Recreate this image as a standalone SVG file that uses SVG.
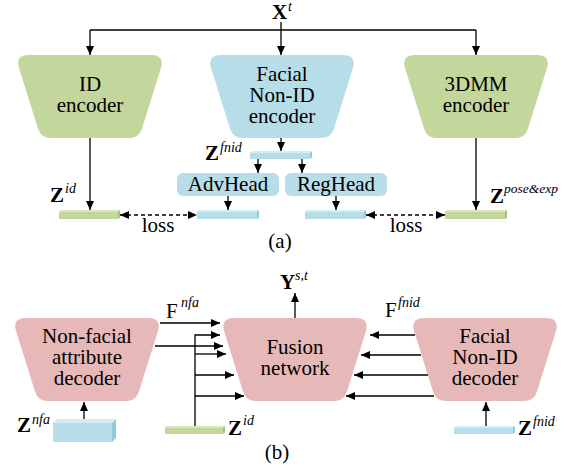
<svg xmlns="http://www.w3.org/2000/svg" width="565" height="472" viewBox="0 0 565 472">
  <style>
    text { font-size: 21px; fill: #000; }
    .c { text-anchor: middle; }
    .green { fill: #c3d69b; }
    .blue { fill: #b7dde8; }
    .pink { fill: #e6b9b8; }
    .greenSide { fill: #a6c27a; }
    .blueSide { fill: #8fcbdb; }
    .blueTop { fill: #d3ecf3; }
    .greenTop { fill: #d6e4b9; }
    .wire { fill: none; stroke: #000; stroke-width: 1.3; }
  </style>
  <defs>
    <marker id="ah" markerUnits="userSpaceOnUse" markerWidth="9" markerHeight="8" viewBox="0 0 9 8" refX="9" refY="4" orient="auto">
      <path d="M0,0 L9,4 L0,8 Z" fill="#000"/>
    </marker>
    <marker id="ahs" markerUnits="userSpaceOnUse" markerWidth="9" markerHeight="8" viewBox="0 0 9 8" refX="0" refY="4" orient="auto">
      <path d="M9,0 L0,4 L9,8 Z" fill="#000"/>
    </marker>
    <!-- rounded trapezoid used by every encoder / decoder block -->
    <path id="trap" d="M4.2,13.4 Q0,0 14,0 L136,0 Q150,0 145.8,13.4 L127,73.5 Q124,83 114,83 L36,83 Q26,83 23,73.5 Z"/>
  </defs>

  <!-- ===== (a) encoders ===== -->
  <g id="id-encoder">
    <use href="#trap" x="15" y="55" class="green"/>
    <text style="font-family: 'Liberation Serif', serif" class="c" x="90" y="91">ID</text>
    <text style="font-family: 'Liberation Serif', serif" class="c" x="90" y="112">encoder</text>
  </g>
  <g id="facial-nonid-encoder">
    <use href="#trap" x="207" y="55" class="blue"/>
    <text style="font-family: 'Liberation Serif', serif" class="c" x="282" y="81">Facial</text>
    <text style="font-family: 'Liberation Serif', serif" class="c" x="282" y="102">Non-ID</text>
    <text style="font-family: 'Liberation Serif', serif" class="c" x="282" y="123">encoder</text>
  </g>
  <g id="3dmm-encoder">
    <use href="#trap" x="401" y="55" class="green"/>
    <text style="font-family: 'Liberation Serif', serif" class="c" x="476" y="91">3DMM</text>
    <text style="font-family: 'Liberation Serif', serif" class="c" x="476" y="112">encoder</text>
  </g>

  <g id="input-xt">
    <text style="font-family: 'Liberation Serif', serif; font-weight: bold" x="272" y="19">X</text>
    <text style="font-family: 'Liberation Serif', serif; font-style: italic; font-size: 14px" x="288" y="11">t</text>
  </g>

  <g id="z-fnid-a">
    <rect x="250" y="152.5" width="60" height="6.5" class="blue"/>
    <polygon points="250,152.5 252,151 312,151 310,152.5" class="blueTop"/>
    <polygon points="310,152.5 312,151 312,157.5 310,159" class="blueSide"/>
    <text style="font-family: 'Liberation Serif', serif; font-weight: bold" x="205" y="160">Z</text>
    <text style="font-family: 'Liberation Serif', serif; font-style: italic; font-size: 14px" x="220" y="152">fnid</text>
  </g>

  <g id="advhead">
    <rect x="177" y="173" width="102" height="23" rx="6" class="blue"/>
    <text style="font-family: 'Liberation Serif', serif" class="c" x="228" y="191">AdvHead</text>
  </g>
  <g id="reghead">
    <rect x="285" y="173" width="102" height="23" rx="6" class="blue"/>
    <text style="font-family: 'Liberation Serif', serif" class="c" x="336" y="191">RegHead</text>
  </g>

  <g id="z-id-a">
    <rect x="59" y="211.5" width="59" height="7.5" class="green"/>
    <polygon points="59,211.5 61,210 120,210 118,211.5" class="greenTop"/>
    <polygon points="118,211.5 120,210 120,217.5 118,219" class="greenSide"/>
    <text style="font-family: 'Liberation Serif', serif; font-weight: bold" x="50" y="202">Z</text>
    <text style="font-family: 'Liberation Serif', serif; font-style: italic; font-size: 14px" x="65" y="193">id</text>
  </g>
  <g id="adv-out">
    <rect x="197" y="211.5" width="60" height="7.5" class="blue"/>
    <polygon points="197,211.5 199,210 259,210 257,211.5" class="blueTop"/>
    <polygon points="257,211.5 259,210 259,217.5 257,219" class="blueSide"/>
  </g>
  <g id="reg-out">
    <rect x="305" y="211.5" width="59" height="7.5" class="blue"/>
    <polygon points="305,211.5 307,210 366,210 364,211.5" class="blueTop"/>
    <polygon points="364,211.5 366,210 366,217.5 364,219" class="blueSide"/>
  </g>
  <g id="z-pose-exp">
    <rect x="445" y="211.5" width="60" height="7.5" class="green"/>
    <polygon points="445,211.5 447,210 507,210 505,211.5" class="greenTop"/>
    <polygon points="505,211.5 507,210 507,217.5 505,219" class="greenSide"/>
    <text style="font-family: 'Liberation Serif', serif; font-weight: bold" x="490" y="203">Z</text>
    <text style="font-family: 'Liberation Serif', serif; font-style: italic; font-size: 13.5px" x="504" y="193">pose&amp;exp</text>
  </g>

  <text style="font-family: 'Liberation Serif', serif" class="c" x="158" y="232">loss</text>
  <text style="font-family: 'Liberation Serif', serif" class="c" x="406" y="232">loss</text>
  <text style="font-family: 'Liberation Serif', serif" class="c" x="280" y="248">(a)</text>

  <!-- ===== (b) decoders and fusion ===== -->
  <g id="nonfacial-decoder">
    <use href="#trap" x="12" y="318" class="pink"/>
    <text style="font-family: 'Liberation Serif', serif" class="c" x="87" y="343">Non-facial</text>
    <text style="font-family: 'Liberation Serif', serif" class="c" x="87" y="364">attribute</text>
    <text style="font-family: 'Liberation Serif', serif" class="c" x="87" y="385">decoder</text>
  </g>
  <g id="fusion-network">
    <use href="#trap" x="220" y="318" class="pink"/>
    <text style="font-family: 'Liberation Serif', serif" class="c" x="295" y="354">Fusion</text>
    <text style="font-family: 'Liberation Serif', serif" class="c" x="295" y="375">network</text>
  </g>
  <g id="facial-nonid-decoder">
    <use href="#trap" x="410" y="318" class="pink"/>
    <text style="font-family: 'Liberation Serif', serif" class="c" x="485" y="343">Facial</text>
    <text style="font-family: 'Liberation Serif', serif" class="c" x="485" y="364">Non-ID</text>
    <text style="font-family: 'Liberation Serif', serif" class="c" x="485" y="385">decoder</text>
  </g>

  <g id="output-yst">
    <text style="font-family: 'Liberation Serif', serif; font-weight: bold" x="280" y="289">Y</text>
    <text style="font-family: 'Liberation Serif', serif; font-style: italic; font-size: 14px" x="295" y="280">s,t</text>
  </g>
  <g id="f-nfa-label">
    <text style="font-family: 'Liberation Serif', serif" x="166" y="318">F</text>
    <text style="font-family: 'Liberation Serif', serif; font-style: italic; font-size: 14px" x="181" y="307">nfa</text>
  </g>
  <g id="f-fnid-label">
    <text style="font-family: 'Liberation Serif', serif" x="385" y="317">F</text>
    <text style="font-family: 'Liberation Serif', serif; font-style: italic; font-size: 14px" x="398" y="307">fnid</text>
  </g>

  <g id="z-nfa">
    <rect x="53" y="423" width="59" height="19" class="blue"/>
    <polygon points="53,423 57,419 116,419 112,423" class="blueTop"/>
    <polygon points="112,423 116,419 116,438 112,442" class="blueSide"/>
    <text style="font-family: 'Liberation Serif', serif; font-weight: bold" x="17" y="432">Z</text>
    <text style="font-family: 'Liberation Serif', serif; font-style: italic; font-size: 14px" x="32" y="424">nfa</text>
  </g>
  <g id="z-id-b">
    <rect x="165" y="427.5" width="58" height="6.5" class="green"/>
    <polygon points="165,427.5 167,426 225,426 223,427.5" class="greenTop"/>
    <polygon points="223,427.5 225,426 225,432.5 223,434" class="greenSide"/>
    <text style="font-family: 'Liberation Serif', serif; font-weight: bold" x="228" y="435">Z</text>
    <text style="font-family: 'Liberation Serif', serif; font-style: italic; font-size: 14px" x="243" y="425">id</text>
  </g>
  <g id="z-fnid-b">
    <rect x="454" y="427.5" width="59" height="6.5" class="blue"/>
    <polygon points="454,427.5 456,426 515,426 513,427.5" class="blueTop"/>
    <polygon points="513,427.5 515,426 515,432.5 513,434" class="blueSide"/>
    <text style="font-family: 'Liberation Serif', serif; font-weight: bold" x="518" y="435">Z</text>
    <text style="font-family: 'Liberation Serif', serif; font-style: italic; font-size: 14px" x="533" y="426">fnid</text>
  </g>

  <text style="font-family: 'Liberation Serif', serif" class="c" x="277" y="459">(b)</text>

  <!-- ===== connectors ===== -->
  <g id="connectors">
    <path class="wire" d="M90,30 H476"/>
    <path class="wire" marker-end="url(#ah)" d="M281,22 V55"/>
    <path class="wire" marker-end="url(#ah)" d="M90,30 V55"/>
    <path class="wire" marker-end="url(#ah)" d="M476,30 V55"/>
    <path class="wire" marker-end="url(#ah)" d="M90,138 V210"/>
    <path class="wire" marker-end="url(#ah)" d="M476,138 V210"/>
    <path class="wire" marker-end="url(#ah)" d="M281,138 V151"/>
    <path class="wire" marker-end="url(#ah)" d="M258,159 V173"/>
    <path class="wire" marker-end="url(#ah)" d="M302,159 V173"/>
    <path class="wire" marker-end="url(#ah)" d="M228,196 V210"/>
    <path class="wire" marker-end="url(#ah)" d="M336,196 V210"/>
    <path class="wire" stroke-dasharray="4 3" marker-start="url(#ahs)" marker-end="url(#ah)" d="M120,215 H197"/>
    <path class="wire" stroke-dasharray="4 3" marker-start="url(#ahs)" marker-end="url(#ah)" d="M366,215 H445"/>

    <path class="wire" marker-end="url(#ah)" d="M160,323 H220"/>
    <path class="wire" marker-end="url(#ah)" d="M195,426 V335 H220"/>
    <path class="wire" marker-end="url(#ah)" d="M155,346 H223"/>
    <path class="wire" marker-end="url(#ah)" d="M195,354 H226"/>
    <path class="wire" marker-end="url(#ah)" d="M195,375 H234"/>
    <path class="wire" marker-end="url(#ah)" d="M195,396 H244"/>
    <path class="wire" marker-end="url(#ah)" d="M415,335 H370"/>
    <path class="wire" marker-end="url(#ah)" d="M421,355 H361"/>
    <path class="wire" marker-end="url(#ah)" d="M428,375 H354"/>
    <path class="wire" marker-end="url(#ah)" d="M434,396 H346"/>
    <path class="wire" marker-end="url(#ah)" d="M295,318 V293"/>
    <path class="wire" marker-end="url(#ah)" d="M84,419 V402"/>
    <path class="wire" marker-end="url(#ah)" d="M486,426 V402"/>
  </g>
</svg>
